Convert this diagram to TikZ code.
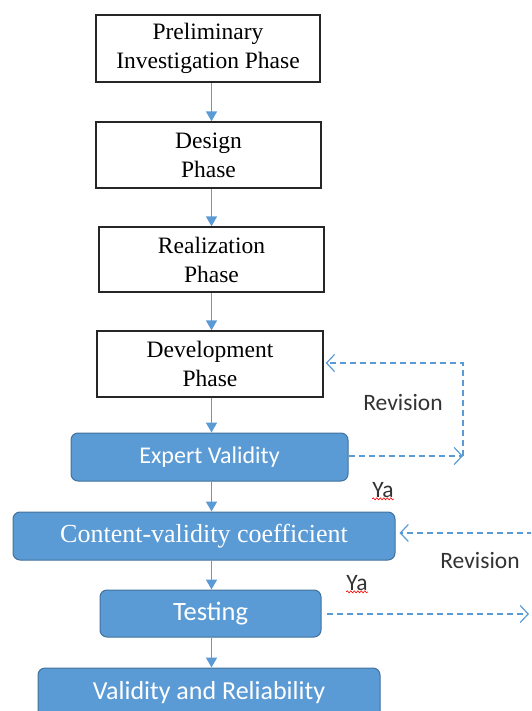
\documentclass[tikz,border=0pt]{standalone}
\usepackage{fontspec}
\setmainfont{Liberation Serif}
\newfontfamily\calib{Carlito}
\usetikzlibrary{arrows.meta,decorations.pathmorphing}
\definecolor{bfill}{HTML}{5B9BD5}
\definecolor{bdraw}{HTML}{41719C}
\definecolor{aline}{HTML}{5B9BD5}
\tikzset{
  phase/.style={draw=black!85, line width=1.4pt, fill=white, align=center,
    inner sep=0pt, font=\fontsize{23.5}{29}\selectfont},
  bluebox/.style={draw=bdraw, line width=1pt, fill=bfill, rounded corners=7pt,
    text=white, inner sep=0pt, align=center},
  arr/.style={draw=aline, line width=1.7pt, -{Triangle[length=10pt,width=11pt]}},
  darr/.style={draw=aline, line width=1.2pt, dash pattern=on 6pt off 4pt,
    -{Straight Barb[length=8pt,width=17pt,line width=1.2pt]}},
  lbl/.style={font=\calib\fontsize{23.5}{27}\selectfont, text=black!80, inner sep=0pt},
  squig/.style={draw=red, line width=0.6pt, decorate,
    decoration={snake, amplitude=1pt, segment length=3.5pt}}
}
\begin{document}
\begin{tikzpicture}[x=1pt,y=-1pt]
\useasboundingbox (0,0) rectangle (531,711);
\clip (0,0) rectangle (531,711);

\node[phase, minimum width=224pt, minimum height=67pt] (b1) at (208,48.5) {Preliminary\\Investigation Phase};
\node[phase, minimum width=225pt, minimum height=66pt] (b2) at (208.5,155) {Design\\Phase};
\node[phase, minimum width=225pt, minimum height=65pt] (b3) at (211.5,259.5) {Realization\\Phase};
\node[phase, minimum width=226pt, minimum height=66pt] (b4) at (210,364) {Development\\Phase};

\node[bluebox, minimum width=277pt, minimum height=48pt, font=\calib\fontsize{24}{27}\selectfont] (ev) at (209.5,457) {Expert Validity};
\node[bluebox, minimum width=382pt, minimum height=48pt, font=\fontsize{26}{29}\selectfont] (cv) at (204,536) {Content-validity coefficient};
\node[bluebox, minimum width=221pt, minimum height=47pt, font=\calib\fontsize{26.5}{29}\selectfont] (ts) at (210.5,613.5) {Testing};
\node[bluebox, minimum width=342pt, minimum height=50pt, font=\calib\fontsize{26}{29}\selectfont] (vr) at (209,693) {Validity and Reliability};

\coordinate (ax) at (211.5,0);
\draw[arr] (b1.south -| ax) -- (b2.north -| ax);
\draw[arr] (b2.south -| ax) -- (b3.north -| ax);
\draw[arr] (b3.south -| ax) -- (b4.north -| ax);
\draw[arr] (b4.south -| ax) -- (ev.north -| ax);
\draw[arr] (ev.south -| ax) -- (cv.north -| ax);
\draw[arr] (cv.south -| ax) -- (ts.north -| ax);
\draw[arr] (ts.south -| ax) -- (vr.north -| ax);

\coordinate (r1) at (463,456);
\coordinate (r2) at (463,363);
\draw[darr] (ev.east |- r1) -- (r1);
\draw[darr, shorten >=2pt] (r1) -- (r2) -- (r2 -| b4.east);
\node[lbl] (rev1) at (403,402) {Revision};

\coordinate (r3) at (533,533);
\draw[darr, shorten >=4pt] (r3) -- (r3 -| cv.east);
\node[lbl] (rev2) at (480,560) {Revision};

\coordinate (r4) at (529,614);
\draw[darr, shorten <=5pt] (ts.east |- r4) -- (r4);

\node[lbl] (ya1) at (383,490) {Ya};
\node[lbl] (ya2) at (357,583) {Ya};
\draw[squig] ([yshift=-1pt]ya1.south west) -- ([yshift=-1pt]ya1.south east);
\draw[squig] ([yshift=-1pt]ya2.south west) -- ([yshift=-1pt]ya2.south east);
\end{tikzpicture}
\end{document}
